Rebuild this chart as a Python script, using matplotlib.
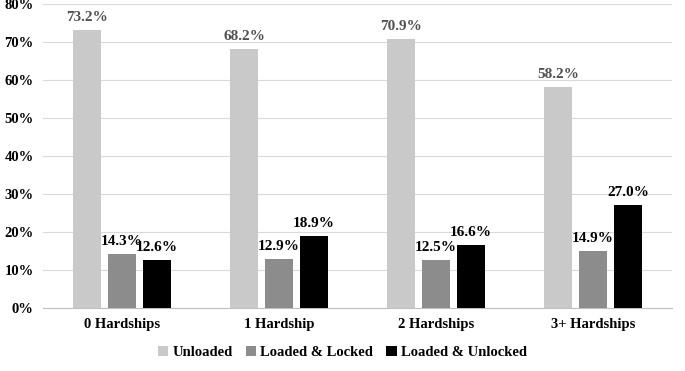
import matplotlib.pyplot as plt
import numpy as np

plt.rcParams['font.family'] = ['Liberation Serif', 'DejaVu Serif']

categories = ['0 Hardships', '1 Hardship', '2 Hardships', '3+ Hardships']
unloaded = [73.2, 68.2, 70.9, 58.2]
locked = [14.3, 12.9, 12.5, 14.9]
unlocked = [12.6, 18.9, 16.6, 27.0]
series_names = ['Unloaded', 'Loaded & Locked', 'Loaded & Unlocked']

fig = plt.figure(figsize=(6.85, 3.71), dpi=100)
ax = fig.add_axes([0.0635, 0.17, 0.917, 0.819])

x = np.arange(len(categories))
w = 0.176
off = 0.223
colors = ['#c9c9c9', '#8c8c8c', '#000000']
label_colors = ['#505050', '#000000', '#000000']

for i, (vals, name) in enumerate(zip([unloaded, locked, unlocked], series_names)):
    pos = x + (i - 1) * off
    ax.bar(pos, vals, width=w, color=colors[i], label=name, zorder=3)
    for p, v in zip(pos, vals):
        ax.text(p, v + 1.6, f'{v:.1f}%', ha='center', va='bottom',
                fontsize=11, color=label_colors[i], fontweight='bold', zorder=4)

ax.set_xlim(-0.5, 3.5)
ax.set_ylim(0, 80)
ax.set_yticks(range(0, 81, 10))
ax.set_yticklabels([f'{t}%' for t in range(0, 81, 10)], fontsize=10.5, fontweight='bold')
ax.set_xticks(x)
ax.set_xticklabels(categories, fontsize=10.5, fontweight='bold')
ax.tick_params(length=0, pad=7)
ax.grid(axis='y', color='#d9d9d9', linewidth=0.8, zorder=0)
for s in ['top', 'right', 'left']:
    ax.spines[s].set_visible(False)
ax.spines['bottom'].set_color('#bfbfbf')

fig.legend(loc='center', bbox_to_anchor=(0.5, 0.05), ncol=3, frameon=False,
           prop={'weight': 'bold', 'size': 10.5}, handlelength=0.7, handleheight=0.7,
           handletextpad=0.3, columnspacing=0.9)

fig.savefig('out.png', dpi=100)
